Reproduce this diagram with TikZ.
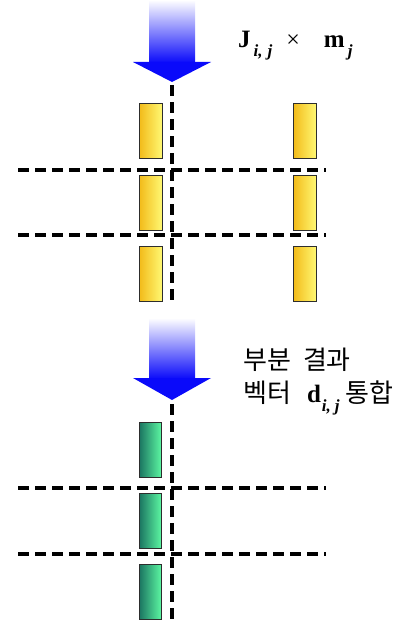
\documentclass[tikz,border=0pt]{standalone}
\usepackage{fontspec}
\setmainfont{Liberation Serif}
\newfontfamily\kr{Noto Sans CJK KR}
\definecolor{yelA}{RGB}{242,186,24}
\definecolor{yelB}{RGB}{255,248,115}
\definecolor{grnA}{RGB}{28,118,98}
\definecolor{grnB}{RGB}{92,248,162}
\definecolor{boxline}{RGB}{45,45,45}
\definecolor{arrblue}{RGB}{10,10,250}
\tikzset{
  ybox/.style={draw=boxline, line width=1pt, minimum width=23pt, minimum height=55pt, inner sep=0pt, left color=yelA, right color=yelB},
  gbox/.style={draw=boxline, line width=1pt, minimum width=22pt, minimum height=55pt, inner sep=0pt, left color=grnA, right color=grnB},
  dline/.style={line width=3.3pt, dash pattern=on 11pt off 6pt},
  lab/.style={anchor=base west, inner sep=0pt, font=\fontsize{25}{28}\selectfont},
}
\newcommand{\sbx}[1]{\raisebox{-9pt}{\fontsize{17}{17}\selectfont\bfseries\itshape #1}}
\begin{document}
\begin{tikzpicture}[x=1pt,y=-1pt]
\useasboundingbox (0,0) rectangle (420,626);
% top arrow
\shade[top color=white, bottom color=arrblue] (149,0) rectangle (195,63);
\fill[arrblue] (133,62) -- (211,62) -- (172,82) -- cycle;
% bottom arrow
\shade[top color=white, bottom color=arrblue] (149,318) rectangle (195,379);
\fill[arrblue] (133,378) -- (211,378) -- (172,400) -- cycle;
% labels
\node[lab] (lab1) at (238,48) {\bfseries J\kern3pt\sbx{i,\kern5pt j}\kern14pt{\mdseries\fontsize{24}{24}\selectfont ×}\kern24pt m\kern3pt\sbx{j}};
\node[lab, font=\fontsize{26}{28}\selectfont] (lab2) at (243,369) {\kr 부분\kern12pt 결과};
\node[lab] (lab3) at (243,402) {{\kr\fontsize{26}{28}\selectfont 벡터}\kern16pt{\bfseries d}\kern1pt\sbx{i,\kern4pt j}\kern6pt{\kr\fontsize{26}{28}\selectfont 통합}};
% top boxes
\node[ybox] (y11) at (150.5,130.5) {};
\node[ybox] (y12) at (150.5,202.5) {};
\node[ybox] (y13) at (150.5,273.5) {};
\node[ybox] (y21) at (304.5,130.5) {};
\node[ybox] (y22) at (304.5,202.5) {};
\node[ybox] (y23) at (304.5,273.5) {};
% bottom boxes
\node[gbox] (g1) at (150.5,449.5) {};
\node[gbox] (g2) at (150.5,520.5) {};
\node[gbox] (g3) at (150.5,592) {};
% dashed lines top
\coordinate (tv1) at (172,85);
\coordinate (tv2) at (172,305);
\coordinate (th1a) at (18,170);
\coordinate (th1b) at (326,170);
\coordinate (th2a) at (18,235);
\coordinate (th2b) at (326,235);
\draw[dline] (tv1) -- (tv2);
\draw[dline] (th1a) -- (th1b);
\draw[dline] (th2a) -- (th2b);
% dashed lines bottom
\coordinate (bv1) at (172,404);
\coordinate (bv2) at (172,624);
\coordinate (bh1a) at (18,488);
\coordinate (bh1b) at (326,488);
\coordinate (bh2a) at (18,554);
\coordinate (bh2b) at (326,554);
\draw[dline] (bv1) -- (bv2);
\draw[dline] (bh1a) -- (bh1b);
\draw[dline] (bh2a) -- (bh2b);
\end{tikzpicture}
\end{document}
